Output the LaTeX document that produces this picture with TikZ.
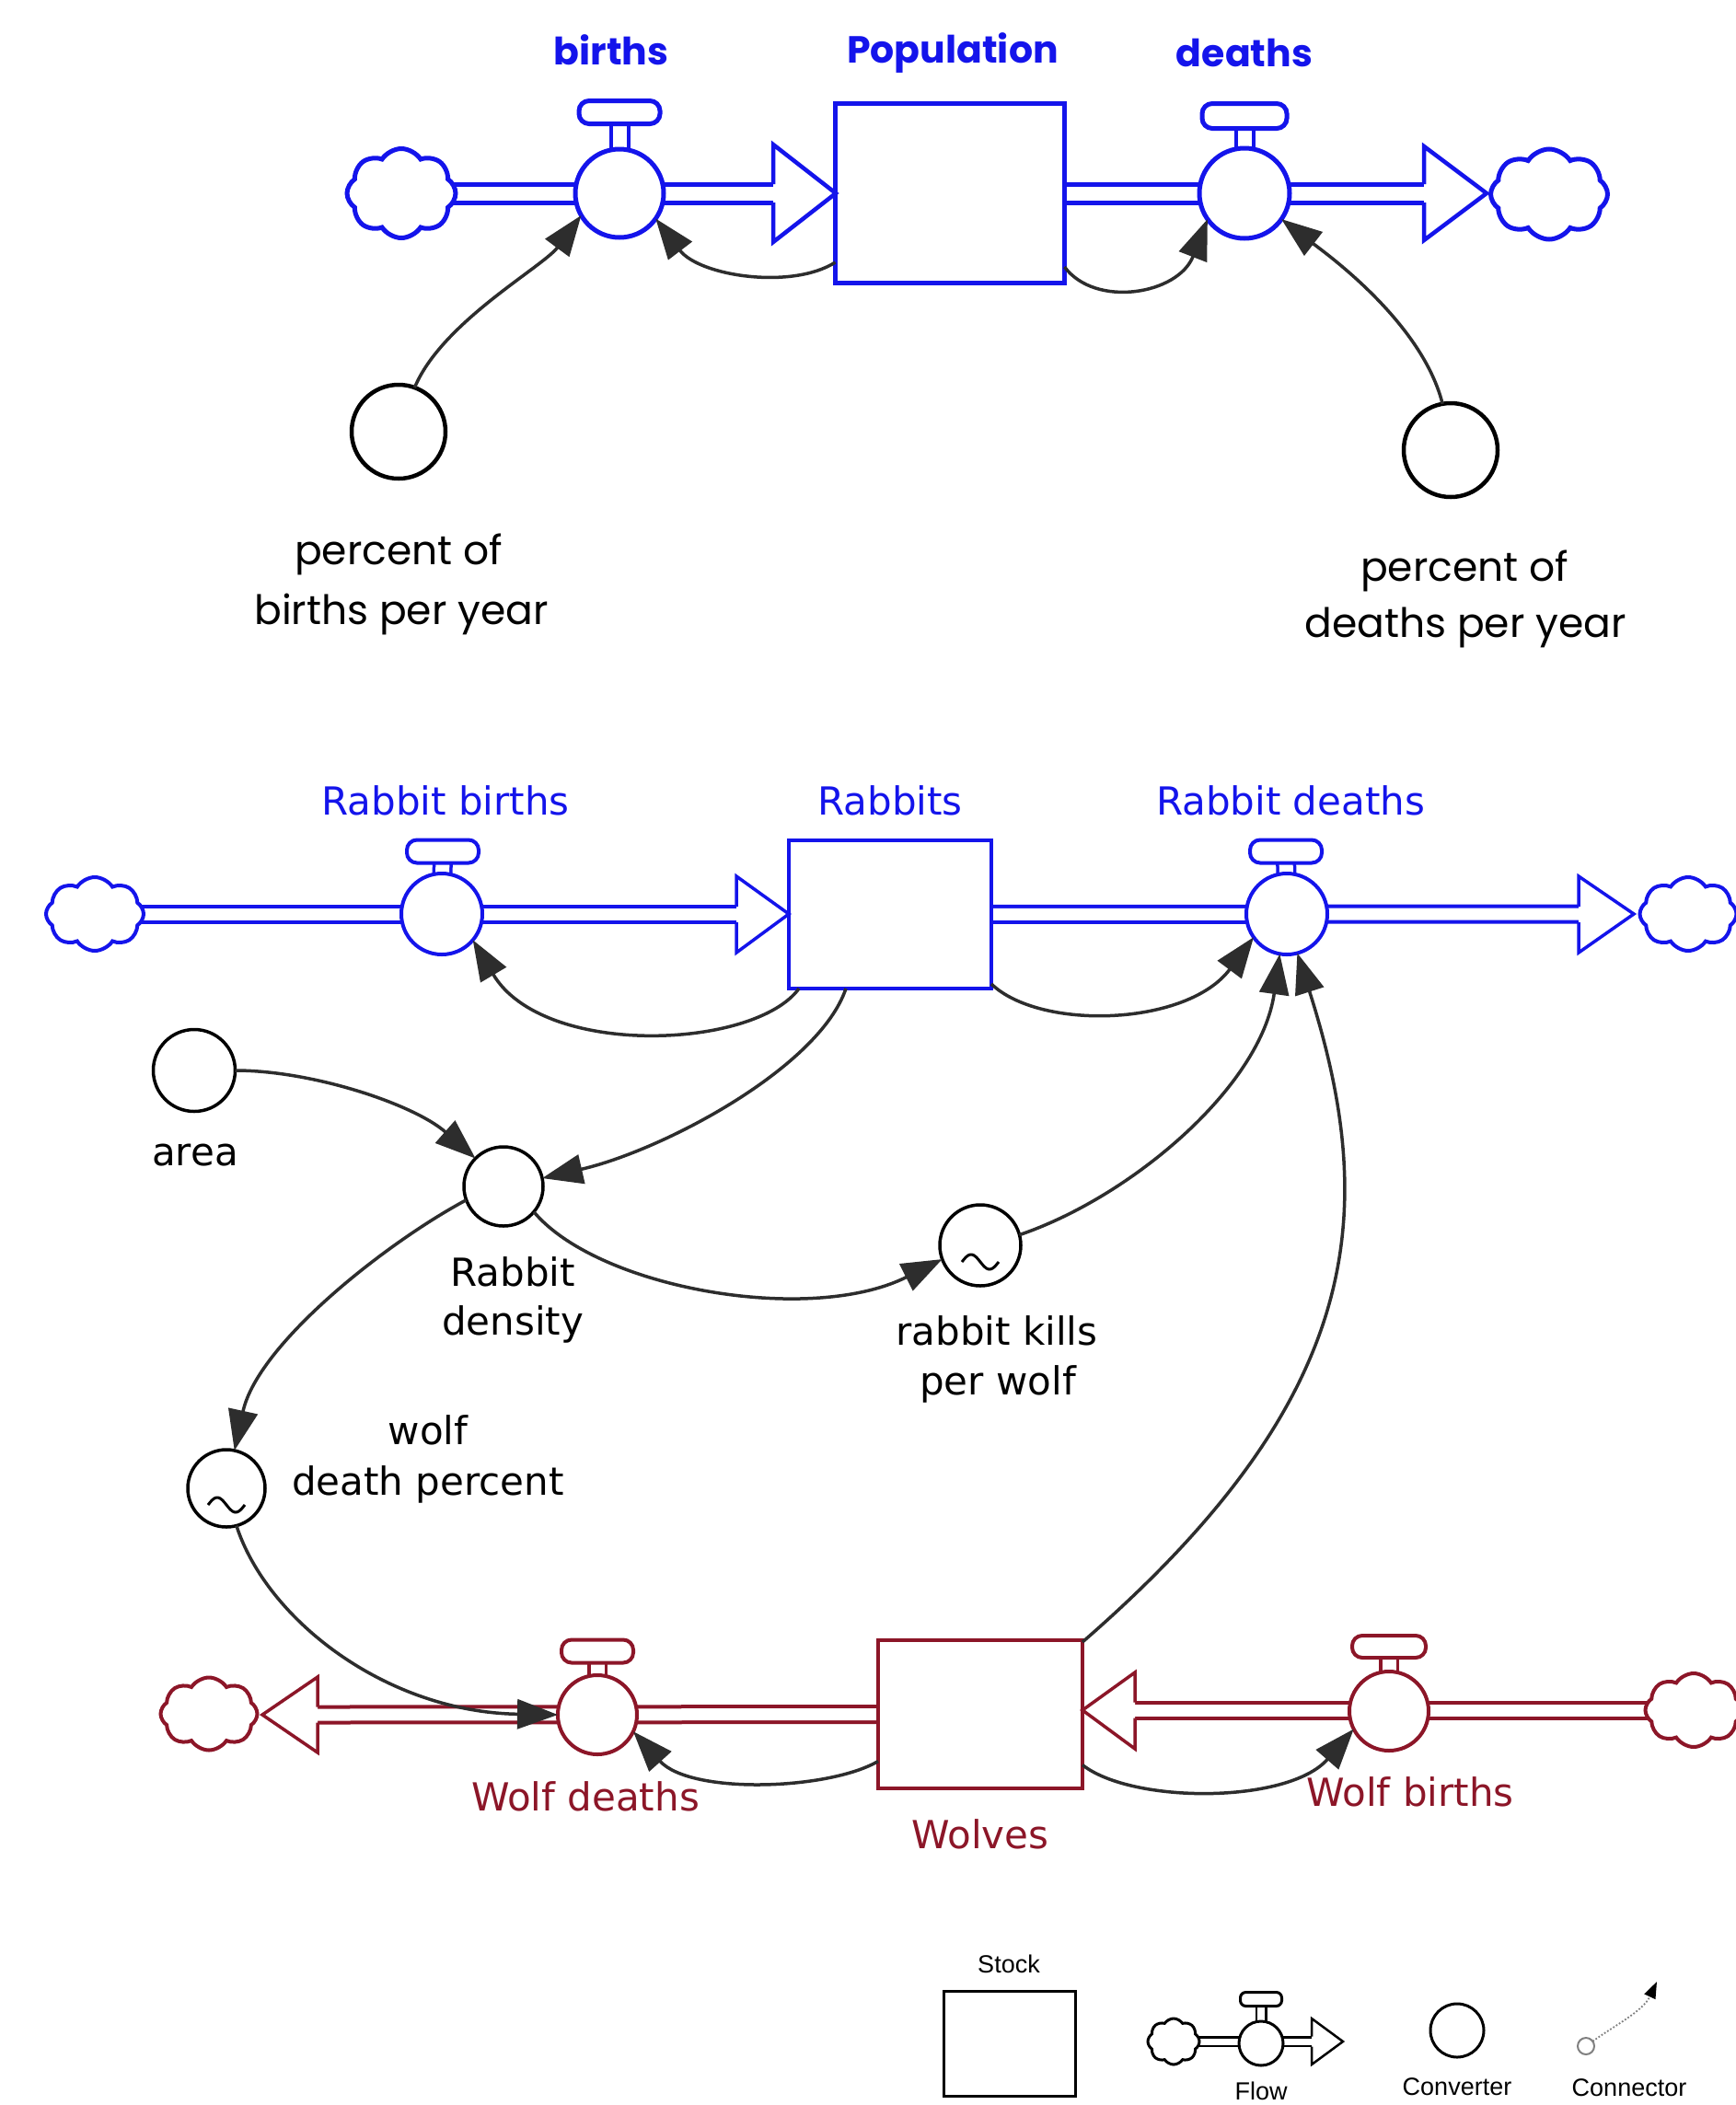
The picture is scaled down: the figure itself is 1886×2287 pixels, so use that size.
\documentclass[tikz,border=0pt]{standalone}
\usepackage{fontspec}
\usetikzlibrary{shapes.symbols,arrows.meta,backgrounds}
\newfontfamily\comicf{Poppins}
\newfontfamily\lucf{DejaVu Sans}
\newfontfamily\arialf{Liberation Sans}
\definecolor{fblue}{RGB}{20,20,235}
\definecolor{wred}{RGB}{140,22,40}
\definecolor{cgray}{RGB}{45,45,45}
\begin{document}
\begin{tikzpicture}[x=1pt,y=1pt,
  every node/.style={inner sep=0pt, outer sep=0pt},
  cloudshape/.style={cloud, cloud puffs=8, cloud puff arc=115, aspect=1.3, draw, fill=white},
  valve/.style={circle, draw, fill=white},
  handlebox/.style={rectangle, rounded corners=11, draw, fill=white},
  stockbox/.style={rectangle, draw, fill=white},
  conv/.style={circle, draw=black, line width=3.5, fill=white},
  connector/.style={draw=cgray, line width=3.5, -{Triangle[length=44, width=32]}},
  toppipe/.style={line width=5, double=white, double distance=15},
  midpipe/.style={line width=4, double=white, double distance=13},
  stem/.style={line width=3.5, double=white, double distance=15},
  toplab/.style={font=\comicf\bfseries\fontsize{41}{48}\selectfont, text=fblue, anchor=base},
  topconvlab/.style={font=\comicf\fontsize{44}{50}\selectfont, anchor=base},
  lab/.style={font=\lucf\fontsize{42}{50}\selectfont, anchor=base},
  leglab/.style={font=\arialf\fontsize{27}{30}\selectfont, anchor=base},
]
\useasboundingbox (0,0) rectangle (1886,-2287);
\begin{pgfonlayer}{background}
  \fill[white] (0,0) rectangle (1886,-2287);
\end{pgfonlayer}

% ===================== TOP: Population =====================
\node[cloudshape, draw=fblue, line width=5, minimum width=118, minimum height=97] (c1) at (436,-210) {};
\node[valve, draw=fblue, line width=5, minimum size=96] (births) at (673,-210) {};
\node[handlebox, draw=fblue, line width=5, minimum width=88, minimum height=25] (birthsh) at (673,-122) {};
\node[stockbox, draw=fblue, line width=5, minimum width=249, minimum height=195] (pop) at (1032,-210) {};
\node[valve, draw=fblue, line width=5, minimum size=98] (deaths) at (1352,-210) {};
\node[handlebox, draw=fblue, line width=5, minimum width=92, minimum height=27] (deathsh) at (1352,-126) {};
\node[cloudshape, draw=fblue, line width=5, minimum width=127, minimum height=98] (c2) at (1683,-211) {};
\node[conv, line width=4.5, minimum size=102] (pb) at (433,-469) {};
\node[conv, line width=4.5, minimum size=102] (pd) at (1576,-489) {};

\begin{pgfonlayer}{background}
  \draw[toppipe, draw=fblue] (c1.center) -- (840,-210);
  \draw[toppipe, draw=fblue] (pop.center) -- (1547,-210);
  \draw[stem, draw=fblue, line width=4] (births.center) -- (birthsh.center);
  \draw[stem, draw=fblue, line width=4] (deaths.center) -- (deathsh.center);
\end{pgfonlayer}
\draw[fblue, line width=4.5, fill=white, line join=miter] (840,-200) -- (840,-157) -- (908,-210) -- (840,-263) -- (840,-220);
\draw[fblue, line width=4.5, fill=white, line join=miter] (1547,-200) -- (1547,-159) -- (1615,-210) -- (1547,-261) -- (1547,-220);

\draw[connector] ([yshift=-75]pop.west) .. controls (860,-315) and (760,-300) .. (births.-35);
\draw[connector] ([yshift=-80]pop.east) .. controls (1190,-335) and (1280,-320) .. (deaths.215);
\draw[connector] (pb.70) .. controls (480,-350) and (590,-290) .. (births.210);
\draw[connector] (pd.100) .. controls (1545,-350) and (1440,-275) .. (deaths.-35);

\node[toplab] (lbirths) at (664,-70) {births};
\node[toplab] (lpop) at (1035,-68) {Population};
\node[toplab] (ldeaths) at (1352,-72) {deaths};
\node[topconvlab] (lpb1) at (433,-613) {percent of};
\node[topconvlab] (lpb2) at (436,-678) {births per year};
\node[topconvlab] (lpd1) at (1591,-631) {percent of};
\node[topconvlab] (lpd2) at (1592,-692) {deaths per year};

% ===================== MIDDLE: Rabbits =====================
\node[cloudshape, draw=fblue, line width=4, minimum width=106, minimum height=80] (rc1) at (103,-993) {};
\node[valve, draw=fblue, line width=4, minimum size=88] (rbv) at (480,-993) {};
\node[handlebox, draw=fblue, line width=4, minimum width=78, minimum height=25] (rbh) at (481,-925) {};
\node[stockbox, draw=fblue, line width=4, minimum width=220, minimum height=161] (rabbits) at (967,-993.5) {};
\node[valve, draw=fblue, line width=4, minimum size=88] (rdv) at (1398,-993) {};
\node[handlebox, draw=fblue, line width=4, minimum width=78, minimum height=25] (rdh) at (1397,-925) {};
\node[cloudshape, draw=fblue, line width=4, minimum width=105, minimum height=80] (rc2) at (1834,-993) {};

\node[conv, minimum size=89] (area) at (211,-1163) {};
\node[conv, minimum size=86] (rd) at (547,-1289) {};
\node[conv, minimum size=88] (rk) at (1065,-1353) {};
\node[conv, minimum size=84] (wdp) at (246,-1617) {};
\begin{scope}[shift={(rk.center)}]
  \draw[line width=3] plot[domain=-20:20, samples=40, smooth] (\x, {-18 - 8*sin(9*\x)});
\end{scope}
\begin{scope}[shift={(wdp.center)}]
  \draw[line width=3] plot[domain=-20:20, samples=40, smooth] (\x, {-18 - 8*sin(9*\x)});
\end{scope}

\begin{pgfonlayer}{background}
  \draw[midpipe, draw=fblue] (rc1.center) -- (800,-993);
  \draw[midpipe, draw=fblue] (rabbits.center) -- (1715,-993);
  \draw[stem, draw=fblue] (rbv.center) -- (rbh.center);
  \draw[stem, draw=fblue] (rdv.center) -- (rdh.center);
\end{pgfonlayer}
\draw[fblue, line width=3.5, fill=white, line join=miter] (800,-985) -- (800,-952) -- (857,-993) -- (800,-1035) -- (800,-1002);
\draw[fblue, line width=3.5, fill=white, line join=miter] (1715,-985) -- (1715,-952) -- (1775,-993) -- (1715,-1035) -- (1715,-1002);

% ===================== BOTTOM: Wolves =====================
\node[cloudshape, draw=wred, line width=4, minimum width=105, minimum height=79] (wc1) at (227,-1862) {};
\node[valve, draw=wred, line width=4, minimum size=86] (wdv) at (649,-1863) {};
\node[handlebox, draw=wred, line width=4, minimum width=78, minimum height=25] (wdh) at (649,-1794) {};
\node[stockbox, draw=wred, line width=4, minimum width=222, minimum height=161] (wolves) at (1065,-1862.5) {};
\node[valve, draw=wred, line width=4, minimum size=86] (wbv) at (1509,-1859) {};
\node[handlebox, draw=wred, line width=4, minimum width=80, minimum height=24] (wbh) at (1509,-1789) {};
\node[cloudshape, draw=wred, line width=4, minimum width=105, minimum height=80] (wc2) at (1840,-1858) {};

\begin{pgfonlayer}{background}
  \draw[midpipe, draw=wred] (wolves.center) -- (345,-1863);
  \draw[midpipe, draw=wred] (wc2.center) -- (1233,-1858);
  \draw[stem, draw=wred] (wdv.center) -- (wdh.center);
  \draw[stem, draw=wred] (wbv.center) -- (wbh.center);
\end{pgfonlayer}
\draw[wred, line width=3.5, fill=white, line join=miter] (345,-1854.5) -- (345,-1822) -- (285,-1863) -- (345,-1904) -- (345,-1871.5);
\draw[wred, line width=3.5, fill=white, line join=miter] (1233,-1849.5) -- (1233,-1817) -- (1176,-1858) -- (1233,-1900) -- (1233,-1866.5);

% ---- connectors (middle / bottom) ----
\draw[connector] ([xshift=11]rabbits.south west) .. controls (820,-1140) and (590,-1150) .. (rbv.-40);
\draw[connector] ([yshift=5]rabbits.south east) .. controls (1130,-1120) and (1290,-1115) .. (rdv.215);
\draw[connector] ([xshift=62]rabbits.south west) .. controls (890,-1160) and (720,-1250) .. (rd.12);
\draw[connector] (area.east) .. controls (340,-1163) and (450,-1200) .. (rd.135);
\draw[connector] (rd.-40) .. controls (650,-1400) and (880,-1440) .. (rk.200);
\draw[connector] (rk.15) .. controls (1230,-1300) and (1370,-1180) .. (rdv.-100);
\draw[connector] ([yshift=-2]wolves.north east) .. controls (1480,-1520) and (1500,-1320) .. (rdv.-75);
\draw[connector] (rd.200) .. controls (420,-1350) and (280,-1460) .. (wdp.78);
\draw[connector] (wdp.-75) .. controls (290,-1760) and (420,-1860) .. (wdv.west);
\draw[connector] ([yshift=-51]wolves.west) .. controls (900,-1945) and (750,-1950) .. (wdv.-25);
\draw[connector] ([yshift=-55]wolves.east) .. controls (1230,-1960) and (1400,-1960) .. (wbv.207);

% ---- labels (middle / bottom) ----
\node[lab, text=fblue] (lrb) at (484,-885) {Rabbit births};
\node[lab, text=fblue] (lrabbits) at (967,-885) {Rabbits};
\node[lab, text=fblue] (lrdth) at (1402,-885) {Rabbit deaths};
\node[lab] (larea) at (212,-1266) {area};
\node[lab] (lrd1) at (557,-1397) {Rabbit};
\node[lab] (lrd2) at (557,-1450) {density};
\node[lab] (lrk1) at (1083,-1461) {rabbit kills};
\node[lab] (lrk2) at (1084,-1515) {per wolf};
\node[lab] (lwdp1) at (465,-1569) {wolf};
\node[lab] (lwdp2) at (465,-1624) {death percent};
\node[lab, text=wred] (lwd) at (636,-1967) {Wolf deaths};
\node[lab, text=wred] (lwolves) at (1065,-2008) {Wolves};
\node[lab, text=wred] (lwb) at (1532,-1962) {Wolf births};

% ===================== LEGEND =====================
\node[stockbox, draw=black, line width=3, minimum width=143, minimum height=114] (ls) at (1096.5,-2220) {};
\node[cloudshape, draw=black, line width=3, minimum width=56, minimum height=50] (lc) at (1275,-2218) {};
\node[valve, draw=black, line width=3, minimum size=48] (lv) at (1370,-2220) {};
\node[handlebox, rounded corners=6, draw=black, line width=3, minimum width=45, minimum height=15] (lh) at (1370,-2172) {};
\begin{pgfonlayer}{background}
  \draw[line width=2.5, double=white, double distance=7, draw=black] (lc.center) -- (1425,-2218);
  \draw[line width=2.5, double=white, double distance=8, draw=black] (lv.center) -- (lh.center);
\end{pgfonlayer}
\draw[black, line width=2.5, fill=white, line join=miter] (1425,-2212.5) -- (1425,-2193) -- (1459,-2218) -- (1425,-2243) -- (1425,-2223.5);
\node[conv, line width=3, minimum size=58] (lcv) at (1583,-2206) {};
\node[circle, draw=gray, line width=2, minimum size=18] (lcs) at (1723,-2223) {};
\coordinate (lct) at (1800,-2153);
\draw[gray, line width=1.8, dotted, -{Triangle[length=18, width=13, color=black, fill=black]}] (lcs) .. controls (1755,-2200) and (1785,-2185) .. (lct);

\node[leglab] (lstock) at (1096,-2143) {Stock};
\node[leglab] (lflow) at (1370,-2281) {Flow};
\node[leglab] (lconv) at (1583,-2276) {Converter};
\node[leglab] (lconn) at (1770,-2277) {Connector};
\end{tikzpicture}
\end{document}
